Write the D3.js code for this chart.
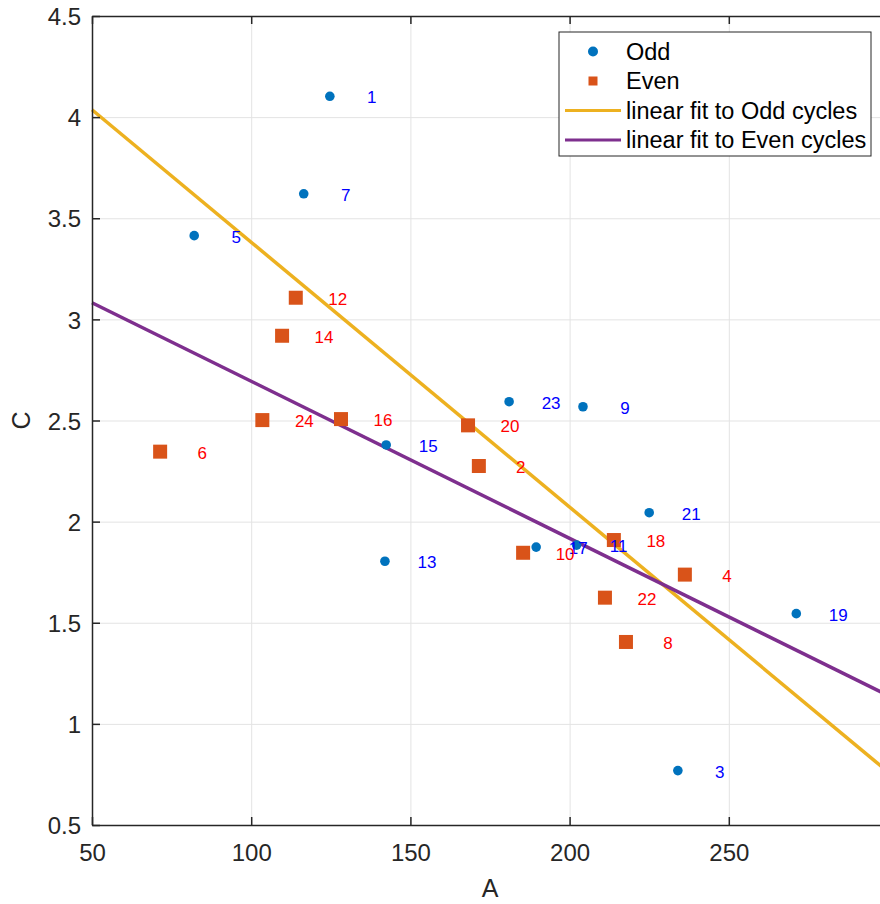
<!DOCTYPE html>
<html>
<head>
<meta charset="utf-8">
<script src="https://cdn.jsdelivr.net/npm/d3@7"></script>
<style>
  body { margin: 0; background: #fff; }
  svg { display: block; font-family: "Liberation Sans", Arial, sans-serif; }
</style>
</head>
<body>
<script>

// data

var oddCycles = [1, 3, 5, 7, 9, 11, 13, 15, 17, 19, 21, 23];
var oddA = [124.7, 234.0, 82.1, 116.5, 204.2, 202.2, 142.0, 142.4, 189.5, 271.2, 225.0, 181.0];
var oddC = [4.103, 0.769, 3.414, 3.621, 2.568, 1.884, 1.804, 2.379, 1.874, 1.545, 2.044, 2.593];

var evenCycles = [2, 4, 6, 8, 10, 12, 14, 16, 18, 20, 22, 24];
var evenA = [171.5, 236.2, 71.4, 217.7, 185.4, 114.0, 109.7, 128.2, 213.9, 168.1, 211.1, 103.5];
var evenC = [2.275, 1.738, 2.346, 1.405, 1.846, 3.107, 2.919, 2.507, 1.909, 2.476, 1.624, 2.502];

var xTicks = [50, 100, 150, 200, 250];
var xTickLabels = ["50", "100", "150", "200", "250"];
var yTicks = [0.5, 1, 1.5, 2, 2.5, 3, 3.5, 4, 4.5];
var yTickLabels = ["0.5", "1", "1.5", "2", "2.5", "3", "3.5", "4", "4.5"];

var legendLabels = ["Odd", "Even", "linear fit to Odd cycles", "linear fit to Even cycles"];

// matlab default colours
var blue = "#0072BD", orange = "#D95319", yellow = "#EDB120", purple = "#7E2F8E";
var axisColor = "#262626", gridColor = "#e3e3e3";

// set the dimensions and margins of the graph
// (the right edge of the axes sits just past the window, as in the picture)

var margin = {top: 16, right: -8, bottom: 79, left: 92},
    totalWidth = 880,
    totalHeight = 904,
    width = totalWidth - margin.left - margin.right,
    height = totalHeight - margin.top - margin.bottom;

var svg = d3.select("body").append("svg")
    .attr("width", totalWidth)
    .attr("height", totalHeight)
    .append("g")
    .attr("transform", "translate(" + margin.left + "," + margin.top + ")");

var x = d3.scaleLinear()
    .domain([50, 300])
    .range([0, width]);

var y = d3.scaleLinear()
    .domain([0.5, 4.5])
    .range([height, 0]);

function zip(a, c, n) {
    return a.map(function(d, i) { return {a: d, c: c[i], n: n[i]}; });
}

var odd = zip(oddA, oddC, oddCycles);
var even = zip(evenA, evenC, evenCycles);

// least squares fit, like polyfit(A, C, 1)
function linearFit(pts) {
    var ma = d3.mean(pts, function(d) { return d.a; }),
        mc = d3.mean(pts, function(d) { return d.c; });
    var sxy = d3.sum(pts, function(d) { return (d.a - ma) * (d.c - mc); }),
        sxx = d3.sum(pts, function(d) { return (d.a - ma) * (d.a - ma); });
    var slope = sxy / sxx;
    return function(a) { return mc + slope * (a - ma); };
}

// grid

var xGrid = d3.axisBottom(x).tickValues(xTicks).tickSize(-height).tickFormat("");
var yGrid = d3.axisLeft(y).tickValues(yTicks).tickSize(-width).tickFormat("");

svg.append("g")
    .attr("transform", "translate(0," + height + ")")
    .call(xGrid)
    .call(function(g) {
        g.select(".domain").remove();
        g.selectAll(".tick line").attr("stroke", gridColor).attr("stroke-width", 1);
    });

svg.append("g")
    .call(yGrid)
    .call(function(g) {
        g.select(".domain").remove();
        g.selectAll(".tick line").attr("stroke", gridColor).attr("stroke-width", 1);
    });

// fit lines

var fitLine = d3.line()
    .x(function(d) { return x(d[0]); })
    .y(function(d) { return y(d[1]); });

var fits = [
    {f: linearFit(odd), color: yellow},
    {f: linearFit(even), color: purple}
];

fits.forEach(function(ft) {
    var ends = x.domain().map(function(a) { return [a, ft.f(a)]; });
    svg.append("path")
        .datum(ends)
        .attr("fill", "none")
        .attr("stroke", ft.color)
        .attr("stroke-width", 3.5)
        .attr("d", fitLine);
});

// markers

svg.selectAll(".odd")
    .data(odd)
    .enter().append("circle")
    .attr("class", "odd")
    .attr("cx", function(d) { return x(d.a); })
    .attr("cy", function(d) { return y(d.c); })
    .attr("r", 4.8)
    .attr("fill", blue);

var sq = 14;
svg.selectAll(".even")
    .data(even)
    .enter().append("rect")
    .attr("class", "even")
    .attr("x", function(d) { return x(d.a) - sq / 2; })
    .attr("y", function(d) { return y(d.c) - sq / 2; })
    .attr("width", sq)
    .attr("height", sq)
    .attr("fill", orange);

// cycle numbers next to each point

function addLabels(pts, color) {
    svg.selectAll(null)
        .data(pts)
        .enter().append("text")
        .attr("x", function(d) { return x(d.a) + 42; })
        .attr("y", function(d) { return y(d.c) + 7; })
        .attr("text-anchor", "middle")
        .attr("font-size", 17)
        .attr("fill", color)
        .text(function(d) { return d.n; });
}
addLabels(odd, "#0000FF");
addLabels(even, "#FF0000");

// axes, ticks pointing inward on all four sides

function styleAxis(g) {
    g.select(".domain").attr("stroke", axisColor).attr("stroke-width", 1.5);
    g.selectAll(".tick line").attr("stroke", axisColor).attr("stroke-width", 1.5);
    g.selectAll(".tick text").attr("fill", axisColor).attr("font-size", 24);
}

var xAxis = d3.axisBottom(x)
    .tickValues(xTicks)
    .tickSizeInner(-8)
    .tickSizeOuter(0)
    .tickPadding(0)
    .tickFormat(function(d, i) { return xTickLabels[i]; });

svg.append("g")
    .attr("transform", "translate(0," + height + ")")
    .call(xAxis)
    .call(styleAxis)
    .call(function(g) {
        g.selectAll(".tick text").attr("y", 36).attr("dy", 0);
    });

var yAxis = d3.axisLeft(y)
    .tickValues(yTicks)
    .tickSizeInner(-8)
    .tickSizeOuter(0)
    .tickPadding(0)
    .tickFormat(function(d, i) { return yTickLabels[i]; });

svg.append("g")
    .call(yAxis)
    .call(styleAxis)
    .call(function(g) {
        g.selectAll(".tick text").attr("x", -11).attr("dy", "0.36em");
    });

svg.append("g")
    .call(d3.axisTop(x).tickValues(xTicks).tickSizeInner(-8).tickSizeOuter(0).tickFormat(""))
    .call(styleAxis);

svg.append("g")
    .attr("transform", "translate(" + width + ",0)")
    .call(d3.axisRight(y).tickValues(yTicks).tickSizeInner(-8).tickSizeOuter(0).tickFormat(""))
    .call(styleAxis);

// axis titles

svg.append("text")
    .attr("x", width / 2)
    .attr("y", height + 72)
    .attr("text-anchor", "middle")
    .attr("font-size", 25)
    .attr("fill", axisColor)
    .text("A");

svg.append("text")
    .attr("transform", "translate(" + (-62) + "," + (height / 2) + ") rotate(-90)")
    .attr("text-anchor", "middle")
    .attr("font-size", 25)
    .attr("fill", axisColor)
    .text("C");

// legend, north east

var legend = svg.append("g")
    .attr("transform", "translate(" + (559 - margin.left) + "," + (32 - margin.top) + ")");

legend.append("rect")
    .attr("width", 312)
    .attr("height", 124)
    .attr("fill", "#fff")
    .attr("stroke", axisColor)
    .attr("stroke-width", 1);

var rowY = function(i) { return 19.5 + i * 29.5; };

legend.append("circle")
    .attr("cx", 34).attr("cy", rowY(0)).attr("r", 5).attr("fill", blue);
legend.append("rect")
    .attr("x", 29.5).attr("y", rowY(1) - 4.5).attr("width", 9).attr("height", 9).attr("fill", orange);
[yellow, purple].forEach(function(c, i) {
    legend.append("line")
        .attr("x1", 6).attr("x2", 62)
        .attr("y1", rowY(i + 2)).attr("y2", rowY(i + 2))
        .attr("stroke", c).attr("stroke-width", 3);
});

legend.selectAll(".leg-text")
    .data(legendLabels)
    .enter().append("text")
    .attr("class", "leg-text")
    .attr("x", 67)
    .attr("y", function(d, i) { return rowY(i); })
    .attr("dy", "0.36em")
    .attr("font-size", 23.5)
    .attr("fill", "#000")
    .text(function(d) { return d; });

</script>
</body>
</html>
